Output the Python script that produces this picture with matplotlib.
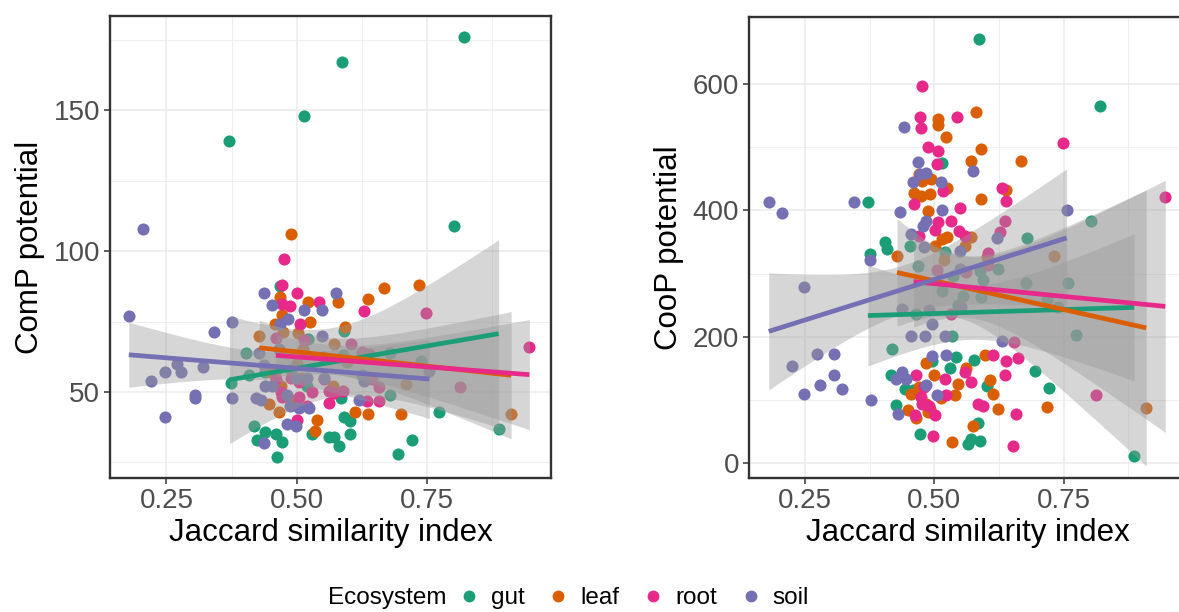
import numpy as np
import matplotlib
matplotlib.use('Agg')
import matplotlib.pyplot as plt
from matplotlib.lines import Line2D

plt.rcParams['font.family'] = ['Liberation Sans', 'DejaVu Sans']

ecosystems = ['gut', 'leaf', 'root', 'soil']
farger = {'gut': '#1B9E77', 'leaf': '#D95F02', 'root': '#E7298A', 'soil': '#7570B3'}

# ---- ComP potential (vinstri) ----
comp_x = {
    'gut': [0.822, 0.588, 0.515, 0.371, 0.803, 0.888, 0.695, 0.722, 0.774, 0.463,
            0.418, 0.424, 0.440, 0.460, 0.471, 0.530, 0.562, 0.572, 0.581, 0.602,
            0.591, 0.602, 0.585, 0.679, 0.738, 0.679, 0.403, 0.374, 0.408, 0.469,
            0.522, 0.591, 0.551, 0.589, 0.626, 0.597, 0.490, 0.520, 0.440],
    'leaf': [0.490, 0.667, 0.735, 0.637, 0.580, 0.522, 0.469, 0.458, 0.474, 0.471,
             0.525, 0.503, 0.592, 0.428, 0.572, 0.513, 0.700, 0.711, 0.638, 0.613,
             0.912, 0.540, 0.535, 0.466, 0.447, 0.599, 0.569, 0.500, 0.460, 0.470,
             0.490, 0.510, 0.450],
    'root': [0.476, 0.471, 0.500, 0.543, 0.472, 0.488, 0.506, 0.514, 0.460, 0.630,
             0.748, 0.604, 0.626, 0.639, 0.947, 0.813, 0.658, 0.636, 0.562, 0.590,
             0.562, 0.571, 0.530, 0.504, 0.472, 0.501, 0.460, 0.504, 0.645, 0.658,
             0.553, 0.470, 0.490, 0.520],
    'soil': [0.2045, 0.1776, 0.375, 0.342, 0.221, 0.247, 0.270, 0.278, 0.320, 0.304,
             0.304, 0.247, 0.375, 0.438, 0.453, 0.575, 0.548, 0.515, 0.548, 0.484,
             0.469, 0.428, 0.437, 0.466, 0.440, 0.453, 0.422, 0.432, 0.482, 0.488,
             0.504, 0.524, 0.482, 0.498, 0.437, 0.620, 0.630, 0.755, 0.498, 0.520,
             0.553],
}
comp_y = {
    'gut': [176.0, 167.1, 148.0, 139.0, 109.0, 36.8, 28.0, 33.0, 43.0, 27.0,
            38.0, 33.0, 35.9, 35.0, 32.1, 35.0, 34.2, 34.0, 30.9, 35.0,
            41.0, 39.8, 47.8, 48.9, 61.1, 63.9, 63.9, 53.1, 56.0, 87.6,
            68.9, 71.8, 62.3, 63.2, 56.0, 60.6, 58.0, 52.0, 57.0],
    'leaf': [106.0, 87.0, 88.1, 83.1, 82.1, 82.1, 83.7, 74.2, 71.2, 77.2,
             75.0, 70.9, 73.0, 70.0, 67.1, 65.1, 42.2, 52.8, 42.2, 43.0,
             42.2, 40.2, 36.0, 43.0, 45.7, 61.2, 52.3, 60.0, 58.0, 52.0,
             47.0, 55.0, 57.0],
    'root': [97.1, 88.1, 85.1, 82.1, 81.3, 80.5, 74.2, 68.3, 69.1, 78.9,
             78.1, 67.1, 64.1, 63.5, 66.1, 51.9, 46.9, 46.9, 46.0, 50.5,
             50.5, 49.5, 50.1, 48.1, 48.1, 40.2, 54.6, 53.4, 54.6, 51.7,
             54.6, 50.0, 55.0, 45.0],
    'soil': [108.0, 76.9, 75.0, 71.2, 54.0, 57.0, 60.0, 57.0, 59.0, 49.0,
             48.0, 41.0, 48.0, 85.1, 81.0, 85.1, 70.0, 79.0, 79.0, 76.0,
             74.2, 63.9, 59.6, 65.3, 52.0, 52.0, 48.0, 47.0, 49.0, 45.1,
             44.5, 44.2, 38.6, 38.0, 32.0, 47.0, 54.0, 57.6, 54.9, 54.9,
             54.9],
}

# ---- CooP potential (hægri) ----
coop_x = {
    'gut': [0.5866, 0.8204, 0.3714, 0.5155, 0.4037, 0.4083, 0.3747, 0.4522, 0.4684, 0.5200,
            0.6783, 0.8023, 0.6234, 0.5879, 0.5931, 0.5362, 0.5155, 0.5556, 0.5898, 0.6770,
            0.7578, 0.7397, 0.7170, 0.5459, 0.4638, 0.7739, 0.5349, 0.4186, 0.5413, 0.5769,
            0.5297, 0.6944, 0.7223, 0.4167, 0.4425, 0.4586, 0.4264, 0.4729, 0.5652, 0.5717,
            0.5879, 0.5846, 0.6021, 0.8863, 0.4961],
    'leaf': [0.5801, 0.5071, 0.5071, 0.5220, 0.5898, 0.5717, 0.6667, 0.4703, 0.4929, 0.4767,
             0.5252, 0.4606, 0.4748, 0.4910, 0.5898, 0.4877, 0.6382, 0.5717, 0.5588, 0.5155,
             0.5252, 0.5019, 0.5187, 0.4276, 0.6021, 0.7313, 0.4845, 0.5975, 0.6072, 0.6137,
             0.5620, 0.5459, 0.5394, 0.5136, 0.4845, 0.4910, 0.4877, 0.4490, 0.4651, 0.5737,
             0.5349, 0.6234, 0.7170, 0.9096, 0.4700, 0.5000, 0.4550],
    'root': [0.4767, 0.4716, 0.4748, 0.5446, 0.4877, 0.5071, 0.5052, 0.5168, 0.4599, 0.5504,
             0.5071, 0.5316, 0.5006, 0.5478, 0.5588, 0.4703, 0.6298, 0.6382, 0.6363, 0.6266,
             0.6040, 0.6040, 0.5620, 0.5058, 0.7480, 0.9464, 0.5330, 0.6544, 0.6137, 0.6382,
             0.6621, 0.5588, 0.5698, 0.5200, 0.5232, 0.4651, 0.4750, 0.4767, 0.5019, 0.4619,
             0.4974, 0.5846, 0.5943, 0.6363, 0.6576, 0.6525, 0.8127, 0.4800, 0.4900],
    'soil': [0.1796, 0.2055, 0.2474, 0.3437, 0.2242, 0.2730, 0.3056, 0.3056, 0.2790, 0.3210,
             0.2474, 0.3766, 0.3747, 0.4406, 0.4341, 0.4684, 0.4845, 0.4716, 0.4587, 0.5123,
             0.5155, 0.5749, 0.4845, 0.4780, 0.4541, 0.4793, 0.5491, 0.5491, 0.6202, 0.7558,
             0.4373, 0.4897, 0.5523, 0.4961, 0.4554, 0.4826, 0.5200, 0.5220, 0.4960, 0.6311,
             0.4380, 0.4264, 0.4457, 0.4296, 0.4832, 0.5052],
}
coop_y = {
    'gut': [670.9, 565.4, 413.1, 474.0, 349.1, 338.6, 330.7, 343.8, 311.3, 334.4,
            355.9, 383.2, 307.1, 304.5, 289.8, 296.6, 271.9, 265.1, 262.5, 284.5,
            285.0, 246.7, 259.8, 250.4, 236.2, 202.1, 201.0, 181.1, 168.0, 162.7,
            150.7, 145.4, 119.2, 140.2, 117.1, 115.5, 91.9, 45.7, 29.9, 38.3,
            35.2, 64.6, 121.8, 11.5, 161.2],
    'leaf': [554.9, 544.4, 533.9, 515.5, 496.1, 477.7, 477.7, 456.7, 448.8, 446.2,
             435.7, 427.8, 422.6, 425.2, 418.4, 398.9, 432.0, 357.0, 343.8, 354.3,
             357.0, 342.8, 321.3, 327.0, 325.5, 328.1, 159.1, 170.6, 131.2, 110.2,
             150.7, 126.0, 108.7, 103.4, 94.5, 86.6, 81.4, 84.0, 71.9, 58.8,
             34.1, 85.6, 89.2, 87.7, 120.0, 140.0, 110.0],
    'root': [596.9, 547.5, 530.2, 547.5, 499.7, 493.4, 473.5, 430.4, 409.4, 403.1,
             381.6, 383.2, 369.0, 367.5, 358.5, 358.5, 435.7, 414.7, 383.2, 365.9,
             332.3, 313.9, 302.9, 306.0, 506.6, 421.5, 236.2, 191.6, 170.6, 161.2,
             166.4, 144.4, 128.6, 133.9, 107.6, 139.1, 105.0, 94.5, 77.2, 77.2,
             43.6, 94.5, 90.8, 139.1, 78.7, 27.8, 107.6, 120.0, 90.0],
    'soil': [413.1, 394.8, 279.3, 413.1, 153.3, 173.2, 173.2, 140.2, 124.4, 117.1,
             109.2, 100.8, 321.8, 531.2, 397.9, 476.1, 459.3, 456.7, 444.6, 444.6,
             400.5, 461.9, 383.2, 374.3, 362.2, 341.2, 336.0, 307.1, 355.9, 400.5,
             244.0, 242.5, 246.7, 220.5, 201.0, 201.0, 201.0, 171.7, 169.0, 193.2,
             144.4, 133.9, 133.9, 78.7, 124.4, 107.6],
}


def t_quantile(df):
    # 97.5% t-quantile, Cornish-Fisher approximation
    z = 1.959964
    return z + (z**3 + z) / (4 * df) + (5 * z**5 + 16 * z**3 + 3 * z) / (96 * df**2)


def smooth_lm(ax, x, y, litur):
    x = np.asarray(x)
    y = np.asarray(y)
    n = len(x)
    b, a = np.polyfit(x, y, 1)
    res = y - (a + b * x)
    s = np.sqrt(np.sum(res**2) / (n - 2))
    sxx = np.sum((x - x.mean())**2)
    xs = np.linspace(x.min(), x.max(), 80)
    fit = a + b * xs
    se = s * np.sqrt(1 / n + (xs - x.mean())**2 / sxx)
    t = t_quantile(n - 2)
    ax.fill_between(xs, fit - t * se, fit + t * se, color='#999999', alpha=0.4,
                    linewidth=0, zorder=3)
    ax.plot(xs, fit, color=litur, linewidth=3.4, zorder=4, solid_capstyle='butt')


fig = plt.figure(figsize=(11.79, 6.12), dpi=100)
ax1 = fig.add_axes([0.0933, 0.219, 0.374, 0.755])
ax2 = fig.add_axes([0.6353, 0.219, 0.3715, 0.753])

panels = [(ax1, comp_x, comp_y, 'ComP potential', (19.5, 183.5), [50, 100, 150], [25, 75, 125, 175]),
          (ax2, coop_x, coop_y, 'CooP potential', (-23, 705), [0, 200, 400, 600], [100, 300, 500])]

for ax, xd, yd, ylab, ylim, yt, ymin in panels:
    for eco in ecosystems:
        ax.scatter(xd[eco], yd[eco], s=76, color=farger[eco], linewidths=0, zorder=2)
    for eco in ecosystems:
        smooth_lm(ax, xd[eco], yd[eco], farger[eco])
    ax.set_xlim(0.1415, 0.9885)
    ax.set_ylim(*ylim)
    ax.set_xticks([0.25, 0.50, 0.75])
    ax.set_xticklabels(['0.25', '0.50', '0.75'])
    ax.set_xticks([0.375, 0.625, 0.875], minor=True)
    ax.set_yticks(yt)
    ax.set_yticks(ymin, minor=True)
    ax.grid(True, which='major', color='#EBEBEB', linewidth=1.1, zorder=0)
    ax.grid(True, which='minor', color='#EBEBEB', linewidth=0.6, zorder=0)
    ax.set_axisbelow(True)
    for sp in ax.spines.values():
        sp.set_color('#333333')
        sp.set_linewidth(1.7)
    ax.tick_params(which='major', length=4, width=1.1, color='#333333',
                   labelcolor='#4D4D4D', labelsize=20, pad=3)
    ax.tick_params(which='minor', length=0)
    ax.set_xlabel('Jaccard similarity index', fontsize=22.5, labelpad=3)
    ax.set_ylabel(ylab, fontsize=22.5, labelpad=6)

# Legend neðst
fig.text(328 / 1179, 1 - 598 / 612, 'Ecosystem', fontsize=17.5, va='center', ha='left')
handles = [Line2D([], [], marker='o', linestyle='', markersize=7.5, color=farger[e])
           for e in ecosystems]
fig.legend(handles, ecosystems, loc='center left', bbox_to_anchor=(459 / 1179, 1 - 598 / 612),
           ncol=4, frameon=False, fontsize=17.5, handlelength=0.8, handletextpad=0.5,
           columnspacing=1.0, borderpad=0, borderaxespad=0)

fig.savefig('out.png', dpi=100)
